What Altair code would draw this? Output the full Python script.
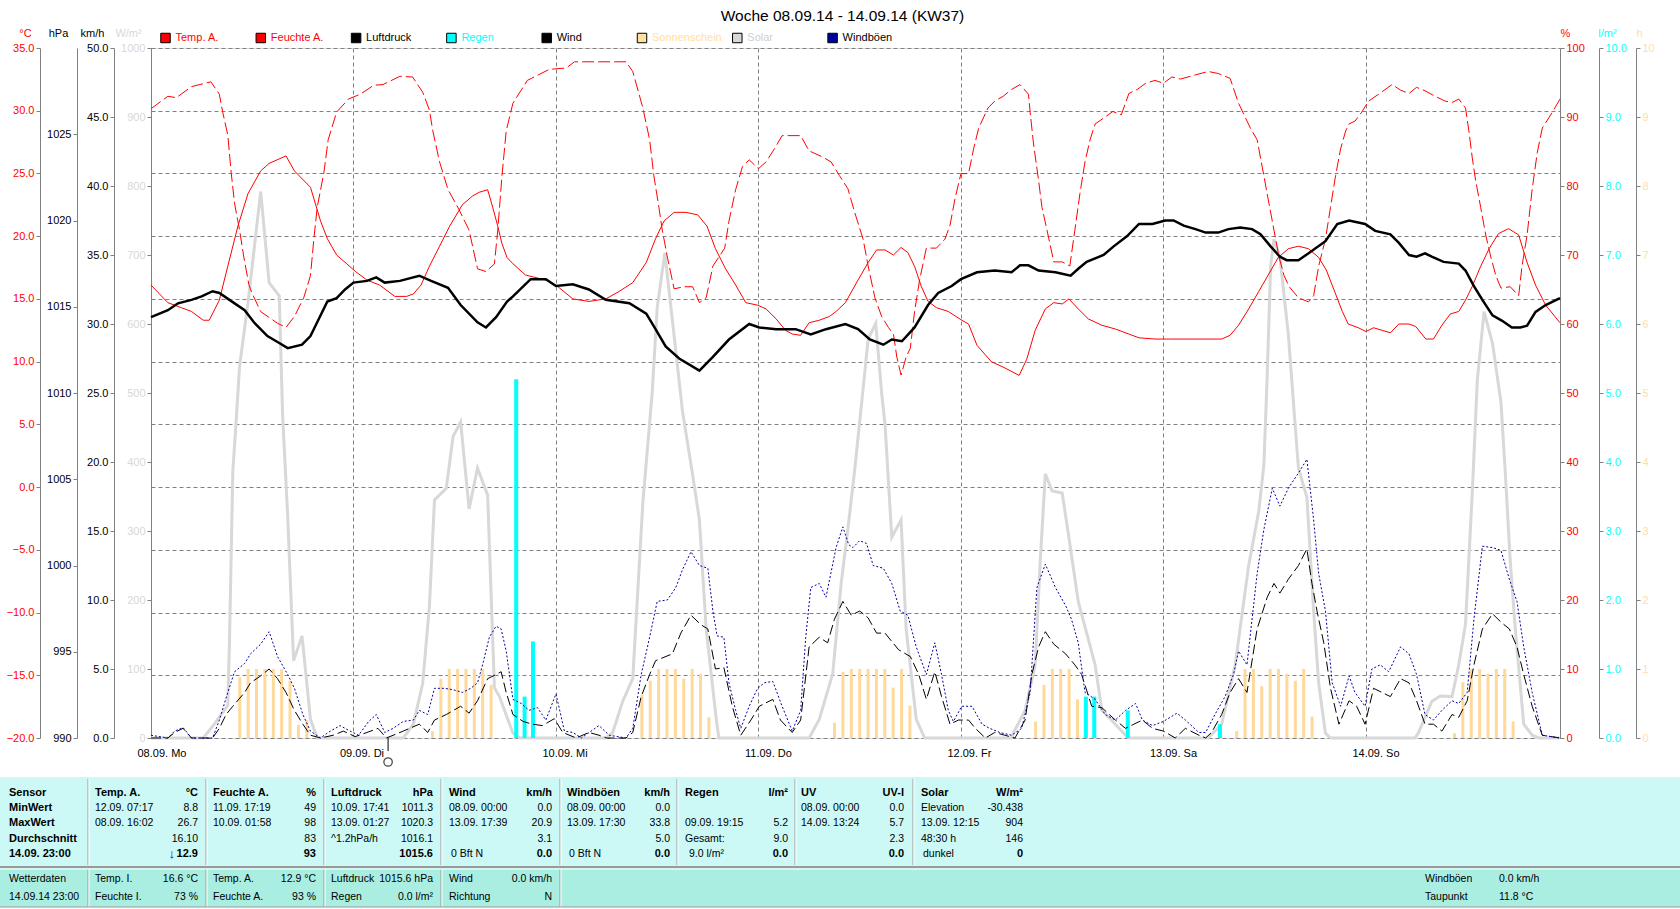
import altair as alt
import pandas as pd

FONT = "Liberation Sans, Arial, DejaVu Sans, sans-serif"
TITLE = "Woche 08.09.14 - 14.09.14 (KW37)"
DAY_LABELS = ["08.09. Mo", "09.09. Di", "10.09. Mi", "11.09. Do", "12.09. Fr", "13.09. Sa", "14.09. So"]

# ---------------- series (hour since 08.09. 00:00, value) ----------------
TEMP_H = [0, 2, 3.6, 4.8, 6.2, 6.9, 8.1, 9.1, 10.3, 11.5, 13, 14, 16, 17, 18.9, 20.1, 20.9, 22, 23.2, 24.2, 25.6,
          27.1, 28.9, 30.3, 31.1, 32, 33, 34.2, 35.4, 36.9, 38.1, 38.9, 39.9, 40.5, 41.1, 41.6, 42.2, 42.9, 44.4,
          46.8, 48, 50, 51.9, 53.9, 55.5, 57.1, 58.7, 59.8, 60.8, 62, 63.4, 64.8, 65.9, 66.9, 68.1, 69.3, 70.5,
          71.9, 72.9, 74.1, 75.2, 76, 77, 78, 79.2, 80.4, 81.2, 82.3, 83.8, 85, 86, 87, 88, 88.9, 89.7, 90.5, 91.3,
          92.1, 93.1, 94.5, 96.1, 96.9, 97.9, 99.6, 101.2, 102.9, 103.8, 104.8, 106, 107, 108, 108.8, 109.9, 111.1,
          112.7, 114.3, 115.9, 117.1, 119, 120.7, 122.2, 126.9, 127.9, 128.9, 130.1, 131.3, 132.5, 133.6, 134.8,
          136, 137.2, 138.4, 139.3, 140.4, 141.2, 141.9, 143.1, 144, 144.9, 145.9, 146.9, 147.9, 149.1, 149.9,
          151.1, 152, 153, 154, 155, 155.8, 156.6, 157.6, 158.6, 159.7, 160.9, 162.1, 163.1, 164.1, 165.3, 167]
TEMP_V = [16.1, 14.7, 14.3, 14.0, 13.3, 13.3, 14.9, 17.6, 20.8, 23.4, 25.2, 25.8, 26.4, 25.2, 23.9, 21.2, 19.8, 18.5,
          17.8, 17.2, 16.5, 16.1, 15.2, 15.2, 15.4, 16.1, 17.6, 19.2, 20.8, 22.5, 23.2, 23.5, 23.7, 22.3, 20.8,
          19.4, 18.3, 17.8, 16.9, 16.5, 16.1, 15.0, 14.8, 15.0, 15.6, 16.3, 17.9, 19.8, 21.2, 21.9, 21.9, 21.7,
          20.8, 19.0, 17.4, 16.1, 14.7, 14.5, 14.2, 13.4, 12.5, 12.2, 12.1, 13.1, 13.3, 13.6, 14.0, 14.7, 16.5,
          17.9, 18.9, 18.9, 18.5, 19.1, 18.7, 17.6, 16.0, 14.8, 14.3, 14.0, 13.3, 13.0, 11.3, 10.0, 9.5, 8.9, 10.2,
          12.5, 14.2, 14.7, 14.6, 15.0, 14.2, 13.4, 12.9, 12.6, 12.2, 11.9, 11.8, 11.8, 11.8, 11.8, 12.1, 12.9,
          14.2, 15.6, 17.0, 18.3, 19.0, 19.2, 19.0, 18.3, 17.3, 15.4, 14.0, 13.0, 12.7, 12.4, 12.7, 12.5, 12.3,
          13.0, 13.0, 12.8, 11.8, 11.8, 12.9, 13.8, 14.0, 14.9, 16.0, 17.6, 19.0, 20.2, 20.6, 20.1, 17.9, 16.1,
          14.5, 13.1]

HUM_H = [0, 2, 3, 4.8, 7.1, 8.1, 8.5, 9.1, 9.5, 9.9, 10.5, 11, 11.6, 12, 13, 15, 16, 17, 18.1, 18.9, 19.3, 19.7,
         20.5, 21, 22, 23.4, 24.2, 24.8, 26.4, 27.5, 29.5, 31, 32.2, 33, 33.4, 34.2, 35.2, 36.5, 37.7, 38.7, 39.7,
         40.7, 41.1, 41.6, 42.1, 42.9, 44.6, 47.2, 49.2, 50.2, 56.3, 57.1, 58.3, 59.1, 59.6, 60.2, 60.6, 61.2, 62,
         63.2, 64.2, 65, 65.8, 66.6, 68, 68.5, 69.3, 70.1, 70.9, 72, 72.9, 73.9, 74.8, 77, 78, 79.6, 80.6, 81.6,
         82.6, 83.4, 84.4, 85, 85.8, 86.6, 87.4, 88, 88.4, 88.9, 89.5, 90, 90.5, 91.1, 91.9, 93.1, 94.1, 94.7, 95.3,
         96, 96.9, 97.5, 98.1, 99.2, 100, 101, 102, 103, 104, 104.2, 104.6, 105.2, 105.6, 106.2, 107, 108, 108.9,
         109.5, 110.1, 110.7, 111.3, 111.9, 113.1, 114, 115, 115.9, 116.9, 117.9, 119, 120, 121, 122, 123.8,
         125.3, 126.5, 127.9, 128.9, 130.3, 131.1, 131.9, 132.5, 133.1, 133.7, 134.3, 134.9, 136, 137.2, 137.8,
         138.4, 139.2, 139.8, 140.4, 141, 141.6, 142, 142.7, 143.5, 144.3, 145.5, 147.1, 148.1, 149.1, 150, 151,
         152.2, 153.4, 154.2, 155, 155.8, 156.2, 156.6, 157, 157.6, 158.2, 158.8, 159.4, 160, 161.1, 162.1, 162.5,
         163.1, 163.7, 164.3, 164.9, 166.1, 167]
HUM_V = [91.2, 93, 92.8, 94.4, 95.1, 93.3, 90.7, 87.4, 82, 77.5, 73.6, 69.7, 65.7, 64.4, 61.8, 60.1, 59.5, 61.1,
         63.8, 67, 72.3, 76.9, 82, 86.7, 90.7, 92.6, 93, 93.3, 94.6, 94.7, 95.9, 95.8, 93.6, 91, 88, 83.5, 79.5,
         76.6, 73.6, 68, 67.6, 68.7, 73.6, 81.5, 88, 92, 95.3, 96.9, 97.1, 98, 98, 96.6, 91.3, 86.7, 81.5, 76.9,
         73.6, 69.7, 65.1, 65.4, 65.4, 63.1, 63.8, 68.4, 71, 74.9, 79.5, 82.8, 83.8, 82.5, 83.5, 85.4, 87.3, 87.3,
         85.1, 84.2, 83.5, 81.5, 79.6, 76.2, 72.3, 68.4, 63.8, 61.1, 59.5, 58.5, 55.2, 52.6, 55.2, 56.5, 61.8,
         66.4, 71, 71, 72.3, 74.3, 78.2, 81.8, 81.8, 85.4, 88.4, 91.3, 92.3, 93, 94, 94.7, 93.3, 90.7, 86.1, 80.8,
         76.9, 73.6, 69, 69, 68.4, 73.6, 78.9, 83.5, 86.7, 89, 90, 90.8, 90.3, 93.4, 94, 94.9, 95.3, 94.9, 95.8,
         95.5, 96.1, 96.6, 96.3, 95.6, 92, 88.4, 86.7, 81.5, 77.5, 73.6, 69.7, 67, 65.4, 63.8, 63.2, 64.1, 68.4,
         72.3, 76.9, 81.5, 85.4, 88, 89, 89.4, 90.7, 92.3, 93.3, 94.7, 93.9, 93.4, 94.3, 93.8, 93, 92.3, 92.1,
         92.6, 91.3, 88, 84.1, 80.8, 76.9, 72.9, 69.7, 67, 65.2, 65.4, 64.1, 68.4, 72.9, 79.5, 84.8, 88.4, 90.7,
         92.6]

PRESS_H = [0, 2, 3.2, 4.8, 6, 7.3, 8.1, 9.3, 11.1, 12.2, 13.8, 15.2, 16.2, 17.9, 18.9, 19.9, 20.9, 22, 23, 24, 25.6,
           26.7, 27.7, 29.5, 31.8, 33.2, 35.2, 36.7, 38.7, 39.7, 40.9, 42.2, 42.9, 45, 46.8, 48, 50, 51.9, 53.9,
           56.7, 58.7, 59.8, 61, 62.6, 65, 66.6, 68.5, 70.9, 72.1, 74.1, 76.4, 78.2, 80, 82.3, 83.8, 85.2, 86.8,
           87.8, 89, 90.5, 92.1, 93.3, 94.9, 96, 97.9, 100, 102, 103, 104, 105.2, 107.2, 109, 109.9, 110.9, 112.9,
           114.1, 115.7, 117.1, 118.7, 120.2, 121.2, 122.4, 123.8, 125, 126.5, 127.7, 129.1, 130.5, 131.5, 132.7,
           133.8, 134.6, 136, 137.2, 139.2, 140.6, 142, 143.9, 145.1, 146.9, 147.9, 149.1, 150, 151, 151.8, 153.2,
           155, 155.8, 156.8, 157.8, 159, 160.1, 161.3, 162.3, 163.1, 164.1, 165.3, 167]
PRESS_V = [1014.4, 1014.8, 1015.2, 1015.4, 1015.6, 1015.9, 1015.8, 1015.4, 1014.8, 1014.1, 1013.3, 1012.9, 1012.6,
           1012.8, 1013.3, 1014.3, 1015.3, 1015.5, 1016.0, 1016.4, 1016.5, 1016.7, 1016.4, 1016.5, 1016.8, 1016.5,
           1016.1, 1015.1, 1014.1, 1013.8, 1014.4, 1015.3, 1015.6, 1016.6, 1016.6, 1016.2, 1016.3, 1016.0, 1015.4,
           1015.2, 1014.6, 1013.7, 1012.7, 1012.0, 1011.3, 1012.1, 1013.1, 1014.0, 1013.8, 1013.7, 1013.7, 1013.4,
           1013.7, 1014.0, 1013.7, 1013.1, 1012.8, 1013.1, 1013.0, 1013.8, 1015.1, 1015.8, 1016.2, 1016.6, 1017.0,
           1017.1, 1017.0, 1017.4, 1017.4, 1017.1, 1017.0, 1016.8, 1017.2, 1017.6, 1018.0, 1018.5, 1019.1, 1019.8,
           1019.8, 1020.0, 1020.0, 1019.7, 1019.5, 1019.3, 1019.3, 1019.5, 1019.6, 1019.5, 1019.2, 1018.5, 1017.9,
           1017.7, 1017.7, 1018.1, 1018.8, 1019.8, 1020.0, 1019.8, 1019.4, 1019.2, 1018.7, 1018.0, 1017.9, 1018.1,
           1017.9, 1017.6, 1017.5, 1017.1, 1016.2, 1015.4, 1014.5, 1014.2, 1013.8, 1013.8, 1013.9, 1014.7, 1015.1,
           1015.5]

SOLAR_H = [0, 6.2, 7.5, 9.1, 9.3, 9.7, 10, 10.5, 11.5, 13, 14, 15.2, 15.6, 16.2, 16.9, 17.9, 18.9, 19.7, 29.9, 31.1,
           32.2, 33, 33.6, 35, 35.8, 36.7, 37.7, 38.7, 39.9, 40.7, 41.3, 42.2, 42.9, 43.7, 53.9, 54.7, 55.9, 57.1,
           58.3, 59.4, 60, 60.9, 61.8, 63, 64.2, 65, 65.8, 67, 67.3, 78, 79.2, 80.8, 81.8, 82.6, 83.4, 84.4, 85,
           85.9, 86.6, 87, 87.8, 88.9, 89.5, 90.7, 91.7, 102, 102.2, 103.6, 104.8, 105.4, 106, 106.8, 108, 108.8,
           109.9, 111.9, 112.7, 114.3, 115.5, 115.9, 125.3, 126.9, 128.5, 130.1, 131.3, 131.9, 132.3, 132.7, 133.1,
           133.8, 134.8, 135.4, 136, 137, 137.8, 138.4, 139.2, 139.8, 149.8, 150.2, 151.8, 152.8, 154.2, 155,
           155.8, 156.6, 157.2, 158, 159, 160, 160.5, 161.1, 161.7, 162.7, 163.7, 164.5, 167]
SOLAR_V = [0, 0, 20, 47, 139, 388, 441, 539, 631, 792, 660, 641, 467, 322, 112, 148, 27, 0, 0, 20, 79, 191, 345, 362,
           437, 458, 332, 391, 352, 73, 60, 30, 7, 0, 0, 7, 53, 86, 342, 500, 624, 703, 605, 473, 381, 316, 158, 27,
           0, 0, 27, 93, 224, 303, 388, 506, 578, 601, 500, 454, 291, 316, 158, 27, 0, 0, 7, 40, 106, 257, 383, 358,
           355, 290, 198, 106, 40, 20, 4, 0, 0, 20, 106, 250, 329, 395, 526, 684, 723, 697, 585, 487, 391, 349, 184,
           79, 7, 0, 0, 7, 53, 61, 60, 106, 165, 355, 519, 618, 572, 487, 388, 257, 158, 20, 4, 0, 0]

WIND_H = [0, 2, 2.8, 3.8, 4.8, 7.3, 8.1, 8.9, 9.7, 11.1, 11.8, 13, 14, 15, 16, 17, 18, 18.9, 20.1, 21.6, 22.8, 24.2,
          25.6, 26.9, 27.9, 29.9, 31.8, 32.8, 33.6, 35, 36.7, 37.7, 38.7, 39.9, 40.9, 41.5, 42.1, 42.9, 44.1, 45.2,
          46.4, 47.8, 48.8, 50.4, 51.9, 53.1, 54, 56.3, 57.1, 58.1, 59.1, 59.8, 61.8, 62.8, 64, 65.2, 66, 66.9,
          67.9, 68.9, 69.9, 71.1, 72.1, 73.7, 74.6, 76, 77, 78, 79.2, 80.2, 81, 82, 83, 84, 85, 86, 87, 88.6, 90,
          91, 91.9, 92.9, 93.7, 94.7, 95.7, 96.9, 97.7, 98.9, 100, 101.2, 102.4, 103.6, 104.4, 105.2, 106, 107,
          108.4, 109.5, 110.3, 111.5, 112.7, 114.3, 115.5, 116.5, 117.5, 118.7, 120, 121.4, 122.6, 124.2, 125,
          125.7, 126.9, 127.9, 128.9, 129.9, 131.1, 132.3, 133.1, 133.8, 134.8, 136, 137, 137.6, 138.2, 139,
          139.8, 140.8, 142, 142.9, 143.9, 144.9, 145.9, 146.9, 148.1, 149.1, 150, 151, 152, 153, 154.2, 155, 156,
          156.8, 157.8, 159, 160, 161, 161.9, 162.7, 163.7, 164.9, 167]
WIND_V = [0, 0, 0.4, 0.7, 0, 0, 0.7, 1.7, 2.3, 3.3, 4.0, 4.5, 5.0, 4.3, 3.3, 2.0, 1.0, 0.2, 0, 0.2, 0.5, 0.1, 0.4,
          0.7, 0, 0.5, 1.0, 0.4, 1.3, 1.7, 2.3, 1.8, 2.7, 4.3, 4.6, 4.8, 3.3, 1.7, 1.2, 1.0, 0.9, 1.4, 0.4, 0, 0.4,
          0.2, 0, 0, 0.4, 3.0, 4.6, 5.6, 6.1, 7.6, 8.9, 8.2, 7.9, 5.0, 5.1, 2.3, 0.2, 1.3, 2.3, 2.8, 1.3, 0.4, 1.3,
          6.6, 7.3, 6.9, 8.6, 9.9, 8.9, 9.2, 8.7, 7.6, 7.6, 6.4, 5.9, 4.6, 2.8, 4.8, 3.0, 1.0, 1.3, 1.3, 0.7, 0,
          0.4, 0.2, 0, 1.3, 4.6, 6.6, 7.7, 6.8, 6.1, 5.3, 4.6, 2.3, 2.2, 1.3, 0.7, 1.0, 1.3, 0.7, 0.5, 0, 0.7, 0.2,
          0, 0.4, 1.7, 3.3, 4.3, 3.3, 7.9, 10.2, 11.2, 10.5, 11.5, 12.5, 13.7, 11.2, 9.2, 6.9, 3.6, 1.0, 2.7, 2.3,
          1.0, 3.6, 3.3, 3.0, 4.3, 4.0, 2.7, 1.0, 1.0, 0.5, 1.7, 1.5, 2.7, 5.3, 7.9, 9.0, 8.4, 7.9, 6.6, 4.6, 2.3,
          0.2, 0]

GUST_H = [0, 2, 2.8, 3.8, 4.8, 7.3, 8.1, 9.1, 9.9, 11.1, 11.8, 13, 14, 15, 16.2, 17, 18, 18.9, 20.1, 21, 22.4, 23.6,
          24.6, 25.8, 26.7, 27.7, 28.7, 29.9, 31.1, 31.8, 32.8, 33.6, 34.8, 35.8, 36.9, 37.9, 38.7, 39.3, 40.1,
          40.9, 41.5, 42.1, 42.9, 43.9, 44.8, 45.8, 46.8, 48, 49, 50, 51, 53.1, 54.3, 56.3, 57.1, 58.1, 59.1, 60,
          61.2, 62.2, 63, 64, 65, 66, 66.6, 67.1, 67.9, 68.5, 69.3, 69.9, 70.9, 71.9, 72.7, 73.7, 74.8, 76, 77,
          77.6, 78.2, 79.2, 80, 80.6, 81.2, 82, 82.7, 83.2, 84, 84.8, 85.6, 86.8, 87.8, 88.8, 89.7, 90.7, 91.9,
          92.9, 93.7, 94.5, 95.1, 96.1, 97.3, 98.5, 99.4, 100.6, 102, 103.2, 104.2, 105, 106, 107.2, 108.4, 109.1,
          109.9, 110.7, 111.9, 113.1, 114.3, 115.5, 116.7, 117.5, 118.7, 120, 121.6, 122.6, 124.2, 125, 126.1,
          127.3, 128.3, 128.9, 129.9, 131.1, 131.9, 132.9, 133.8, 134.8, 136, 137, 137.8, 138.4, 139.2, 140, 141,
          142, 142.7, 143.9, 144.7, 145.7, 146.7, 148.1, 149.1, 150, 151, 152, 153, 154.2, 155, 156, 156.8, 157.8,
          159, 160, 161, 161.9, 162.7, 163.7, 164.9, 167]
GUST_V = [0.2, 0, 0.5, 0.75, 0, 0, 1.3, 3.3, 4.8, 5.4, 6.1, 6.8, 7.7, 5.9, 4.6, 3.6, 1.7, 0.5, 0, 0.4, 0.9, 0.5,
          0.2, 1.2, 1.7, 0.4, 0.7, 1.2, 1.3, 2.0, 1.7, 3.6, 3.6, 3.5, 3.3, 3.6, 4.0, 5.3, 7.3, 8.1, 7.9, 6.3, 2.8,
          2.5, 2.0, 2.2, 1.3, 3.2, 0.5, 0.4, 0, 0.9, 0.2, 0, 0.7, 4.6, 7.3, 9.9, 10.0, 10.9, 12.2, 13.5, 12.5,
          12.3, 9.2, 7.4, 7.3, 4.0, 2.0, 0.7, 2.3, 3.6, 4.0, 4.1, 2.3, 0.5, 2.0, 7.3, 10.9, 11.2, 10.2, 12.0, 13.8,
          15.3, 14.0, 13.8, 14.3, 14.1, 12.5, 12.3, 11.2, 9.2, 8.9, 6.6, 4.6, 6.9, 4.6, 2.0, 1.2, 2.3, 2.3, 1.0,
          0.7, 0.4, 0.2, 0.7, 3.3, 10.9, 12.6, 10.9, 9.6, 8.6, 6.9, 3.3, 2.8, 1.7, 1.3, 2.0, 2.5, 1.3, 0.9, 1.2,
          1.8, 1.3, 0.4, 0.4, 1.7, 3.0, 4.6, 6.3, 5.3, 11.9, 15.1, 18.1, 16.8, 18.1, 19.2, 20.2, 15.8, 11.9, 9.2,
          4.0, 2.3, 4.5, 3.3, 2.3, 5.0, 5.3, 4.8, 6.6, 6.1, 4.6, 1.7, 1.3, 2.0, 2.7, 2.5, 3.3, 8.6, 13.9, 13.8,
          13.6, 11.5, 9.9, 6.6, 3.3, 0.2, 0]

SUN_H = [10, 11, 12, 13, 14, 15, 16, 17, 18, 33, 34, 35, 36, 37, 38, 39, 40, 58, 59, 60, 61, 62, 63, 64, 65, 66,
         81, 82, 83, 84, 85, 86, 87, 88, 89, 90, 105, 106, 107, 108, 109, 110, 129, 130, 131, 132, 133, 134, 135,
         136, 137, 138, 155, 156, 157, 158, 159, 160, 161, 162]
SUN_V = [0.88, 1, 1, 1, 1, 1, 0.83, 0.19, 0.26, 0.1, 0.86, 1, 1, 1, 1, 1, 0.77, 0.63, 0.83, 1, 1, 1, 0.86, 1, 0.93,
         0.3, 0.22, 0.96, 1, 1, 1, 1, 1, 0.73, 1, 0.47, 0.24, 0.77, 1, 1, 1, 0.56, 0.1, 1, 1, 0.75, 1, 1, 0.93,
         0.83, 1, 0.31, 0.07, 0.81, 1, 1, 0.93, 1, 1, 0.24]

RAIN_H = [43, 44, 45, 111, 112, 116, 127]
RAIN_V = [5.2, 0.6, 1.4, 0.6, 0.6, 0.4, 0.2]

MARK_H = [28.1]

LEG_NAMES = ["Temp. A.", "Feuchte A.", "Luftdruck", "Regen", "Wind", "Sonnenschein", "Solar", "Windböen"]
LEG_FILL = ["#FF0000", "#FF0000", "#000000", "#00FFFF", "#000000", "#FFE0A0", "#D8D8D8", "#0000A0"]
LEG_TEXT = ["#FF0000", "#FF0000", "#000000", "#00FFFF", "#000000", "#FFE0A0", "#D0D0D0", "#000000"]

# ---------------- summary table texts ----------------
TOP_HEAD = ["Sensor", "MinWert", "MaxWert", "Durchschnitt", "14.09. 23:00"]
TOP_COLS = [
    [("Temp. A.", "°C"), ("12.09.  07:17", "8.8"), ("08.09.  16:02", "26.7"), ("", "16.10"), ("", "12.9")],
    [("Feuchte A.", "%"), ("11.09.  17:19", "49"), ("10.09.  01:58", "98"), ("", "83"), ("", "93")],
    [("Luftdruck", "hPa"), ("10.09.  17:41", "1011.3"), ("13.09.  01:27", "1020.3"), ("^1.2hPa/h", "1016.1"), ("", "1015.6")],
    [("Wind", "km/h"), ("08.09.  00:00", "0.0"), ("13.09.  17:39", "20.9"), ("", "3.1"), ("0 Bft N", "0.0")],
    [("Windböen", "km/h"), ("08.09.  00:00", "0.0"), ("13.09.  17:30", "33.8"), ("", "5.0"), ("0 Bft N", "0.0")],
    [("Regen", "l/m²"), ("", ""), ("09.09.  19:15", "5.2"), ("Gesamt:", "9.0"), ("9.0 l/m²", "0.0")],
    [("UV", "UV-I"), ("08.09.  00:00", "0.0"), ("14.09.  13:24", "5.7"), ("", "2.3"), ("", "0.0")],
    [("Solar", "W/m²"), ("Elevation", "-30.438"), ("13.09.  12:15", "904"), ("48:30 h", "146"), ("dunkel", "0")],
]
BOT_HEAD = ["Wetterdaten", "14.09.14 23:00"]
BOT_COLS = [
    [("Temp. I.", "16.6 °C"), ("Feuchte I.", "73 %")],
    [("Temp. A.", "12.9 °C"), ("Feuchte A.", "93 %")],
    [("Luftdruck", "1015.6 hPa"), ("Regen", "0.0 l/m²")],
    [("Wind", "0.0 km/h"), ("Richtung", "N")],
]
BOT_RIGHT = [("Windböen", "0.0 km/h"), ("Taupunkt", "11.8 °C")]

# ---------------- layout (pixels in the 1680x909 page) ----------------
PL, PT, PW, PH = 151, 48, 1409, 690
X_DOM = [0, 167]
COL_L = [95, 213, 331, 449, 567, 685, 801, 921]
COL_R = [198, 316, 433, 552, 670, 788, 904, 1023]
ROW_Y = [793, 808, 823, 839, 854]
BROW_Y = [879, 897]
SEP_X = [88, 206, 324, 441, 560, 677, 795, 913]
BSEP_X = [88, 206, 324, 441, 560]
LEG_X0, LEG_DX, LEG_Y = 165.5, 95.3, 38
GRID = "#808080"


def xs(axis=None):
    return alt.X("h:Q", scale=alt.Scale(domain=X_DOM, nice=False, zero=False), axis=axis)


def yaxis(orient, offset, values, fmt, color, title, tx, **kw):
    return alt.Axis(orient=orient, offset=offset, values=values, format=fmt, labelColor=color,
                    title=title, titleColor=color, titleAngle=0, titleX=tx, titleY=-15,
                    titleAlign="center", titleBaseline="middle", titleFontSize=11,
                    titleFontWeight="normal", titleFont=FONT, labelFont=FONT, labelFontSize=11,
                    domainColor=GRID, domainWidth=1, tickColor=GRID, tickSize=4, labelPadding=2,
                    labelOverlap=False, labelFlush=False, **kw)


def df(h, v):
    return pd.DataFrame({"h": h, "v": v})


label_expr = "[" + ",".join(f"'{d}'" for d in DAY_LABELS) + "][round(datum.value/24)]"
x_axis = alt.Axis(values=[24 * i for i in range(7)], grid=True, gridDash=[4, 3], gridColor=GRID,
                  domain=False, ticks=False, labelExpr=label_expr, labelAlign="left", labelOffset=-14,
                  labelPadding=9, labelFont=FONT, labelFontSize=11, labelColor="black", title=None)

sun = alt.Chart(df(SUN_H, SUN_V)).mark_bar(size=3, color="#FFD99A", orient="vertical").encode(
    x=xs(),
    y=alt.Y("v:Q", scale=alt.Scale(domain=[0, 10], nice=False),
            axis=yaxis("right", 76, list(range(0, 11)), "d", "#FFE0A0", "h", 3, grid=False)))

solar = alt.Chart(df(SOLAR_H, SOLAR_V)).mark_line(color="#D8D8D8", strokeWidth=3).encode(
    x=xs(),
    y=alt.Y("v:Q", scale=alt.Scale(domain=[0, 1000], nice=False),
            axis=yaxis("left", 0, list(range(0, 1001, 100)), "d", "#D8D8D8", "W/m²", -23, grid=False)))

rain = alt.Chart(df(RAIN_H, RAIN_V)).mark_bar(size=4, color="#00FFFF", orient="vertical").encode(
    x=xs(),
    y=alt.Y("v:Q", scale=alt.Scale(domain=[0, 10], nice=False),
            axis=yaxis("right", 39, list(range(0, 11)), ".1f", "#00FFFF", "l/m²", 8, grid=False)))

temp = alt.Chart(df(TEMP_H, TEMP_V)).mark_line(color="#FF0000", strokeWidth=1).encode(
    x=xs(x_axis),
    y=alt.Y("v:Q", scale=alt.Scale(domain=[-20, 35], nice=False, zero=False),
            axis=yaxis("left", 111, list(range(-20, 36, 5)), ".1f", "#FF0000", "°C", -15,
                       grid=True, gridDash=[4, 3], gridColor=GRID)))

hum = alt.Chart(df(HUM_H, HUM_V)).mark_line(color="#FF0000", strokeWidth=1, strokeDash=[12, 4]).encode(
    x=xs(),
    y=alt.Y("v:Q", scale=alt.Scale(domain=[0, 100], nice=False),
            axis=yaxis("right", 0, list(range(0, 101, 10)), "d", "#FF0000", "%", 5, grid=False)))

press = alt.Chart(df(PRESS_H, PRESS_V)).mark_line(color="#000000", strokeWidth=2.5).encode(
    x=xs(),
    y=alt.Y("v:Q", scale=alt.Scale(domain=[990, 1030], nice=False, zero=False),
            axis=yaxis("left", 74, list(range(990, 1026, 5)), "d", "#000000", "hPa", -19, grid=False)))

wind = alt.Chart(df(WIND_H, WIND_V)).mark_line(color="#000000", strokeWidth=1, strokeDash=[10, 4]).encode(
    x=xs(),
    y=alt.Y("v:Q", scale=alt.Scale(domain=[0, 50], nice=False),
            axis=yaxis("left", 37, list(range(0, 51, 5)), ".1f", "#000000", "km/h", -22, grid=False)))

title_axis = alt.Axis(orient="top", labels=False, ticks=False, domain=False, grid=False, title=TITLE,
                      titleX=842 - PL, titleY=15 - PT, titleAlign="center", titleBaseline="middle",
                      titleFontSize=15.5, titleFont=FONT, titleFontWeight="normal", titleColor="black")
gust = alt.Chart(df(GUST_H, GUST_V)).mark_line(color="#0000A0", strokeWidth=1, strokeDash=[2, 2]).encode(
    x=xs(title_axis),
    y=alt.Y("v:Q", scale=alt.Scale(domain=[0, 50], nice=False), axis=None))

mark_df = pd.DataFrame({"h": MARK_H})
marker = alt.Chart(mark_df).mark_rule(color="#000000", strokeWidth=1).encode(
    x=xs(), y=alt.value(PH), y2=alt.value(PH + 13))
marker_c = alt.Chart(mark_df).mark_point(shape="circle", size=70, color="#000000", filled=False,
                                         strokeWidth=1.3).encode(x=xs(), y=alt.value(PH + 24))

# ---------------- legend row ----------------
leg_df = pd.DataFrame({"name": LEG_NAMES, "fill": LEG_FILL, "tc": LEG_TEXT})
leg_df["x"] = [LEG_X0 - PL + i * LEG_DX for i in range(len(LEG_NAMES))]
leg_df["xt"] = leg_df["x"] + 10
leg_df["y"] = LEG_Y - PT
leg_box = alt.Chart(leg_df).mark_square(size=90, stroke="black", strokeWidth=1, opacity=1).encode(
    x=alt.X("x:Q", scale=None), y=alt.Y("y:Q", scale=None), fill=alt.Fill("fill:N", scale=None))
leg_txt = alt.Chart(leg_df).mark_text(align="left", baseline="middle", font=FONT, fontSize=11).encode(
    x=alt.X("xt:Q", scale=None), y=alt.Y("y:Q", scale=None), text="name:N",
    fill=alt.Fill("tc:N", scale=None))

# ---------------- table ----------------
rects = pd.DataFrame({
    "x": [0 - PL, 0 - PL, 0 - PL],
    "x2": [1680 - PL, 1680 - PL, 1680 - PL],
    "y": [777 - PT, 866 - PT, 868 - PT],
    "y2": [866 - PT, 868 - PT, 907 - PT],
    "f": ["#CCF9F5", "#9A9A9A", "#AAEEE2"],
})
seps = []
for sx in SEP_X:
    seps.append((sx - PL, 779 - PT, 865 - PT, "#9A9A9A"))
    seps.append((sx + 1 - PL, 779 - PT, 865 - PT, "#FFFFFF"))
for sx in BSEP_X:
    seps.append((sx - PL, 869 - PT, 907 - PT, "#9A9A9A"))
    seps.append((sx + 1 - PL, 869 - PT, 907 - PT, "#FFFFFF"))
sep_df = pd.DataFrame(seps, columns=["x", "y", "y2", "f"])

cells = []  # (text, x, y, align, bold, color, size)
for i, t in enumerate(TOP_HEAD):
    cells.append((t, 9, ROW_Y[i], "left", True, "#000000", 11))
for c, col in enumerate(TOP_COLS):
    for r, (lt, rt) in enumerate(col):
        if lt:
            cells.append((lt, COL_L[c] + (4 if r == 4 and c == 5 else (2 if r == 4 else 0)), ROW_Y[r],
                          "left", r == 0, "#000000", 11 if r == 0 else 10.5))
        if rt:
            cells.append((rt, COL_R[c], ROW_Y[r], "right", r in (0, 4), "#000000", 11 if r in (0, 4) else 10.5))
cells.append(("↓", 175, ROW_Y[4], "right", True, "#0000FF", 13))
for i, t in enumerate(BOT_HEAD):
    cells.append((t, 9, BROW_Y[i], "left", False, "#000000", 10.5))
for c, col in enumerate(BOT_COLS):
    for r, (lt, rt) in enumerate(col):
        cells.append((lt, COL_L[c], BROW_Y[r], "left", False, "#000000", 10.5))
        cells.append((rt, COL_R[c], BROW_Y[r], "right", False, "#000000", 10.5))
for r, (lt, rt) in enumerate(BOT_RIGHT):
    cells.append((lt, 1425, BROW_Y[r], "left", False, "#000000", 10.5))
    cells.append((rt, 1499, BROW_Y[r], "left", False, "#000000", 10.5))
cell_df = pd.DataFrame(cells, columns=["t", "x", "y", "a", "b", "c", "s"])
cell_df["x"] = cell_df["x"] - PL
cell_df["y"] = cell_df["y"] - PT

rect_layer = alt.Chart(rects).mark_rect().encode(
    x=alt.X("x:Q", scale=None), x2="x2:Q", y=alt.Y("y:Q", scale=None), y2="y2:Q",
    fill=alt.Fill("f:N", scale=None))
sep_layer = alt.Chart(sep_df).mark_rule(strokeWidth=1).encode(
    x=alt.X("x:Q", scale=None), y=alt.Y("y:Q", scale=None), y2="y2:Q",
    stroke=alt.Stroke("f:N", scale=None))
hline = alt.Chart(pd.DataFrame({"x": [0 - PL, 0 - PL], "x2": [1680 - PL, 1680 - PL],
                                "y": [869 - PT, 907 - PT], "f": ["#FFFFFF", "#9A9A9A"]})).mark_rule().encode(
    x=alt.X("x:Q", scale=None), x2="x2:Q", y=alt.Y("y:Q", scale=None), stroke=alt.Stroke("f:N", scale=None))

text_layers = []
for (align, bold, size), sub in cell_df.groupby(["a", "b", "s"]):
    text_layers.append(
        alt.Chart(sub).mark_text(align=align, baseline="middle", font=FONT, fontSize=size,
                                 fontWeight="bold" if bold else "normal").encode(
            x=alt.X("x:Q", scale=None), y=alt.Y("y:Q", scale=None), text="t:N",
            fill=alt.Fill("c:N", scale=None)))

chart = alt.layer(
    sun, solar, rain, temp, hum, press, wind, gust, marker, marker_c, leg_box, leg_txt,
    rect_layer, sep_layer, hline, *text_layers
).resolve_scale(
    x="independent", y="independent"
).properties(
    width=PW, height=PH,
    autosize=alt.AutoSizeParams(type="none"),
    padding={"left": PL, "top": PT, "right": 1680 - PL - PW, "bottom": 909 - PT - PH},
    background="white",
).configure_view(stroke=GRID, strokeWidth=2).configure(font=FONT)

chart.save("out.html", embed_options={"renderer": "svg", "actions": False})
